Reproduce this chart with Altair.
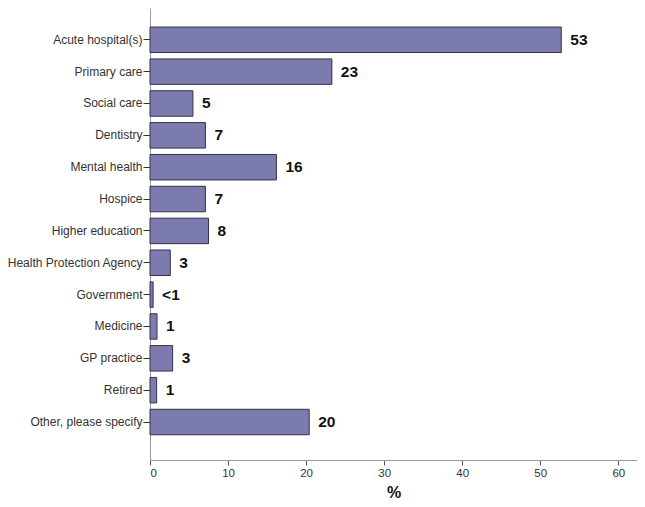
import altair as alt
import pandas as pd

categories = ["Acute hospital(s)", "Primary care", "Social care", "Dentistry",
              "Mental health", "Hospice", "Higher education",
              "Health Protection Agency", "Government", "Medicine",
              "GP practice", "Retired", "Other, please specify"]
values = [52.7, 23.3, 5.5, 7.1, 16.2, 7.1, 7.5, 2.6, 0.4, 0.9, 2.9, 0.85, 20.4]
labels = ["53", "23", "5", "7", "16", "7", "8", "3", "<1", "1", "3", "1", "20"]

df = pd.DataFrame({"cat": categories, "val": values, "lab": labels})

FONT = "Liberation Sans"

y_enc = alt.Y("cat:N", sort=categories, title=None,
              scale=alt.Scale(paddingInner=0.2, paddingOuter=0.695, align=0.43),
              axis=alt.Axis(labelFont=FONT, labelFontSize=12, labelColor="#333333",
                            tickColor="#333333", tickSize=7, labelPadding=1,
                            domainColor="#999999", labelLimit=200))
x_enc = alt.X("val:Q", title="%",
              scale=alt.Scale(domain=[0, 62.4], nice=False, zero=True),
              axis=alt.Axis(values=[0, 10, 20, 30, 40, 50, 60], grid=False,
                            labelFont=FONT, labelFontSize=11.5, labelColor="#333333",
                            tickColor="#555555", tickSize=5, domainColor="#999999",
                            titleFont=FONT, titleFontSize=16, titleFontWeight="bold",
                            titleColor="#111111", titleBaseline="alphabetic",
                            titleY=37))

bars = alt.Chart(df).mark_bar(color="#7b7bb0", stroke="#333344", strokeWidth=1).encode(
    x=x_enc, y=y_enc)

text = alt.Chart(df).mark_text(align="left", baseline="middle", dx=9, font=FONT,
                               fontSize=15.5, fontWeight="bold", color="#111111").encode(
    x=alt.X("val:Q"), y=alt.Y("cat:N", sort=categories), text="lab:N")

chart = (bars + text).properties(
    width=487, height=452,
    autosize=alt.AutoSizeParams(type="none"),
    padding={"left": 142, "top": 0, "right": 0, "bottom": 39},
).configure(background="white").configure_view(stroke=None)

chart.save("out.html", embed_options={"renderer": "svg", "actions": False})
